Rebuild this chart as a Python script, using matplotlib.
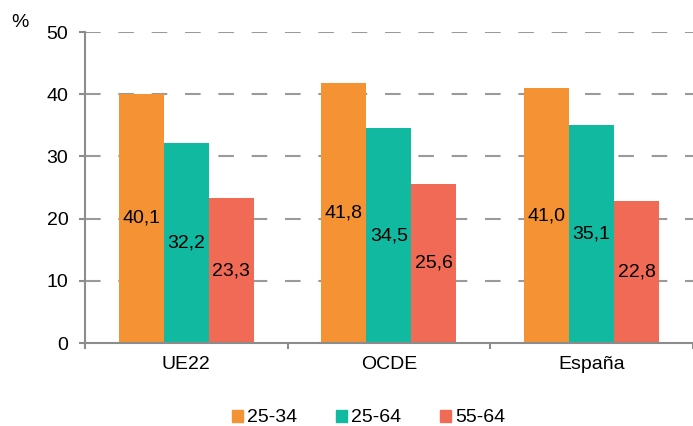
import numpy as np
import matplotlib.pyplot as plt
from matplotlib.patches import Patch

plt.rcParams['font.family'] = ['Liberation Sans', 'DejaVu Sans']

categories = ["UE22", "OCDE", "España"]
series_names = ["25-34", "25-64", "55-64"]
v_25_34 = [40.1, 41.8, 41.0]
v_25_64 = [32.2, 34.5, 35.1]
v_55_64 = [23.3, 25.6, 22.8]
colors = ["#F59233", "#10B9A0", "#F06A55"]

values = [v_25_34, v_25_64, v_55_64]

fig = plt.figure(figsize=(6.93, 4.26), dpi=100)
ax = fig.add_axes([0.1227, 0.1948, 0.877, 0.7300])

x = np.arange(len(categories))
w = 0.222
for k in range(3):
    xs = x + (k - 1) * w
    bars = ax.bar(xs, values[k], width=w, color=colors[k], zorder=2)
    for b, v in zip(bars, values[k]):
        ax.text(b.get_x() + b.get_width() / 2, v / 2, "{:.1f}".format(v).replace(".", ","),
                ha="center", va="center", fontsize=14, zorder=3)

ax.set_xlim(-0.5, 2.5)
ax.set_ylim(0, 50)
ax.set_yticks([0, 10, 20, 30, 40, 50])
for y in [10, 20, 30, 40, 50]:
    ax.axhline(y, color="#9a9a9a", lw=1.5, dashes=(7.5, 8.5), zorder=1)

ax.set_xticks(x)
ax.set_xticklabels(categories, fontsize=14)
ax.set_xticks([-0.5, 0.5, 1.5, 2.5], minor=True)
ax.tick_params(axis="x", which="major", length=0, pad=9.5)
ax.tick_params(axis="x", which="minor", length=4.5, width=1.5, color="#8c8c8c", direction="out")
ax.tick_params(axis="y", length=4.5, width=1.5, color="#8c8c8c", labelsize=14, pad=7.5)

for s in ["top", "right"]:
    ax.spines[s].set_visible(False)
for s in ["left", "bottom"]:
    ax.spines[s].set_color("#8c8c8c")
    ax.spines[s].set_linewidth(1.5)

fig.text(0.029, 0.948, "%", fontsize=14, ha="center", va="center")

handles = [Patch(color=c) for c in colors]
fig.legend(handles, series_names, loc="center", bbox_to_anchor=(0.532, 0.019), ncol=3,
           frameon=False, fontsize=14, handlelength=0.57, handleheight=0.57,
           handletextpad=0.2, columnspacing=2.0)

fig.savefig("out.png", dpi=100)
